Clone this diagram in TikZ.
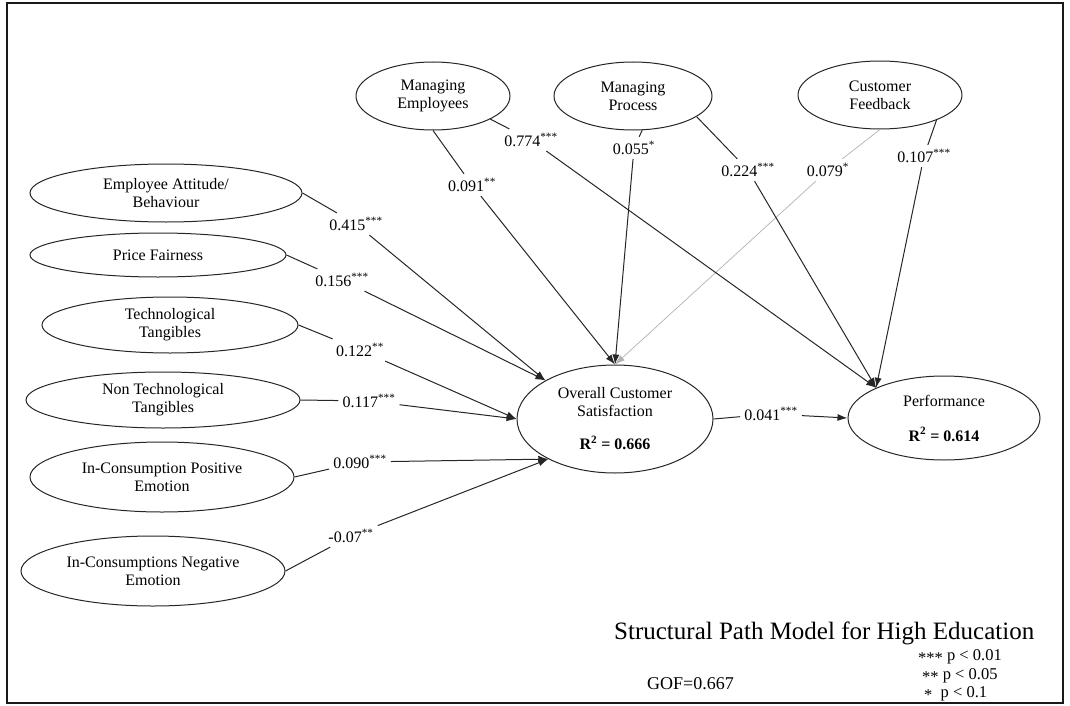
\documentclass[tikz,border=0pt]{standalone}
\usepackage{fontspec}
\setmainfont{Liberation Serif}
\usetikzlibrary{shapes.geometric,arrows.meta}
\newcommand{\sigstar}[1]{\raisebox{-0.45ex}{#1}}
\begin{document}
\begin{tikzpicture}[x=1pt,y=-1pt,
  construct/.style={draw=black!85, line width=1pt, ellipse, inner sep=0pt,
    align=center, font=\fontsize{16}{18}\selectfont},
  coef/.style={font=\fontsize{16}{18}\selectfont, inner sep=4pt},
  link/.style={draw=black!85, line width=1pt},
  arr/.style={link, -{Latex[length=10pt,width=7pt]}},
  faint/.style={draw=black!30, line width=0.7pt},
  faintarr/.style={faint, -{Latex[length=10pt,width=7pt]}},
  legend/.style={anchor=base west, inner sep=0pt, font=\fontsize{18}{20}\selectfont}
]
\useasboundingbox (0,0) rectangle (1070,706);
\draw[line width=2pt, black!90] (7,3) rectangle (1063,703);

% management constructs (top row)
\node[construct, minimum width=154pt, minimum height=68pt] (ME) at (433,96) {Managing\\Employees};
\node[construct, minimum width=158pt, minimum height=68pt] (MP) at (633,96) {Managing\\Process};
\node[construct, minimum width=164pt, minimum height=68pt] (CF) at (880,95) {Customer\\Feedback};

% service quality constructs (left column)
\node[construct, minimum width=272pt, minimum height=58pt] (EAB) at (166,193) {Employee Attitude/\\Behaviour};
\node[construct, minimum width=256pt, minimum height=44pt] (PF)  at (158,255) {Price Fairness};
\node[construct, minimum width=256pt, minimum height=56pt] (TT)  at (170,325) {Technological\\Tangibles};
\node[construct, minimum width=274pt, minimum height=56pt] (NTT) at (163,400) {Non Technological\\Tangibles};
\node[construct, minimum width=264pt, minimum height=70pt] (PE)  at (162,477) {In-Consumption Positive\\Emotion};
\node[construct, minimum width=264pt, minimum height=70pt] (NE)  at (153,571) {In-Consumptions Negative\\Emotion};

% outcome constructs
\node[construct, minimum width=196pt, minimum height=108pt] (OCS) at (615,419)
  {Overall Customer\\Satisfaction\\[15pt]\textbf{R\textsuperscript{2} = 0.666}};
\node[construct, minimum width=192pt, minimum height=84pt] (PERF) at (944,418)
  {Performance\\[17pt]\textbf{R\textsuperscript{2} = 0.614}};

% path coefficients
\node[coef] (cEAB) at (356,224) {0.415\textsuperscript{***}};
\node[coef] (cPF)  at (342,280) {0.156\textsuperscript{***}};
\node[coef] (cTT)  at (360,350) {0.122\textsuperscript{**}};
\node[coef] (cNTT) at (369,401) {0.117\textsuperscript{***}};
\node[coef] (cPE)  at (360,462) {0.090\textsuperscript{***}};
\node[coef] (cNE)  at (351,536) {-0.07\textsuperscript{**}};
\node[coef] (cMEo) at (472,185) {0.091\textsuperscript{**}};
\node[coef] (cMEp) at (531,140) {0.774\textsuperscript{***}};
\node[coef] (cMPo) at (634,148) {0.055\textsuperscript{*}};
\node[coef] (cMPp) at (748,170) {0.224\textsuperscript{***}};
\node[coef] (cCFo) at (828,170) {0.079\textsuperscript{*}};
\node[coef] (cCFp) at (924,156) {0.107\textsuperscript{***}};
\node[coef] (cOP)  at (771,414) {0.041\textsuperscript{***}};

% paths into overall customer satisfaction
\draw[link] (EAB.east) -- (cEAB);  \draw[arr] (cEAB) -- (OCS.151);
\draw[link] (PF.east)  -- (cPF);   \draw[arr] (cPF)  -- (OCS.151);
\draw[link] (TT.east)  -- (cTT);   \draw[arr] (cTT)  -- (OCS.west);
\draw[link] (NTT.east) -- (cNTT);  \draw[arr] (cNTT) -- (OCS.west);
\draw[link] (PE.east)  -- (cPE);   \draw[arr] (cPE)  -- (OCS.211);
\draw[link] (NE.east)  -- (cNE);   \draw[arr] (cNE)  -- (OCS.211);
\draw[link] (ME.south) -- (cMEo);  \draw[arr] (cMEo) -- (OCS.north);
\draw[link] (MP.-75)   -- (cMPo);  \draw[arr] (cMPo) -- (OCS.north);
\draw[faint] (CF.south) -- (cCFo); \draw[faintarr] (cCFo) -- (OCS.north);

% paths into performance
\draw[link] (ME.-22) -- (cMEp);  \draw[arr] (cMEp) -- (PERF.156);
\draw[link] (MP.-18) -- (cMPp);  \draw[arr] (cMPp) -- (PERF.156);
\draw[link] (CF.-24) -- (cCFp);  \draw[arr] (cCFp) -- (PERF.156);
\draw[link] (OCS.east) -- (cOP); \draw[arr] (cOP) -- (PERF.west);

% caption and legend
\node[anchor=base west, inner sep=0pt, font=\fontsize{25}{28}\selectfont] (title) at (614,639)
  {Structural Path Model for High Education};
\node[legend] (gof) at (647,689) {GOF=0.667};
\node[legend, font=\fontsize{16.5}{19}\selectfont] (sig1) at (918,660) {\sigstar{***}\ p < 0.01};
\node[legend, font=\fontsize{16.5}{19}\selectfont] (sig2) at (922,679) {\sigstar{**}\ p < 0.05};
\node[legend, font=\fontsize{16.5}{19}\selectfont] (sig3) at (924,697) {\sigstar{*}\ \ p < 0.1};
\end{tikzpicture}
\end{document}
